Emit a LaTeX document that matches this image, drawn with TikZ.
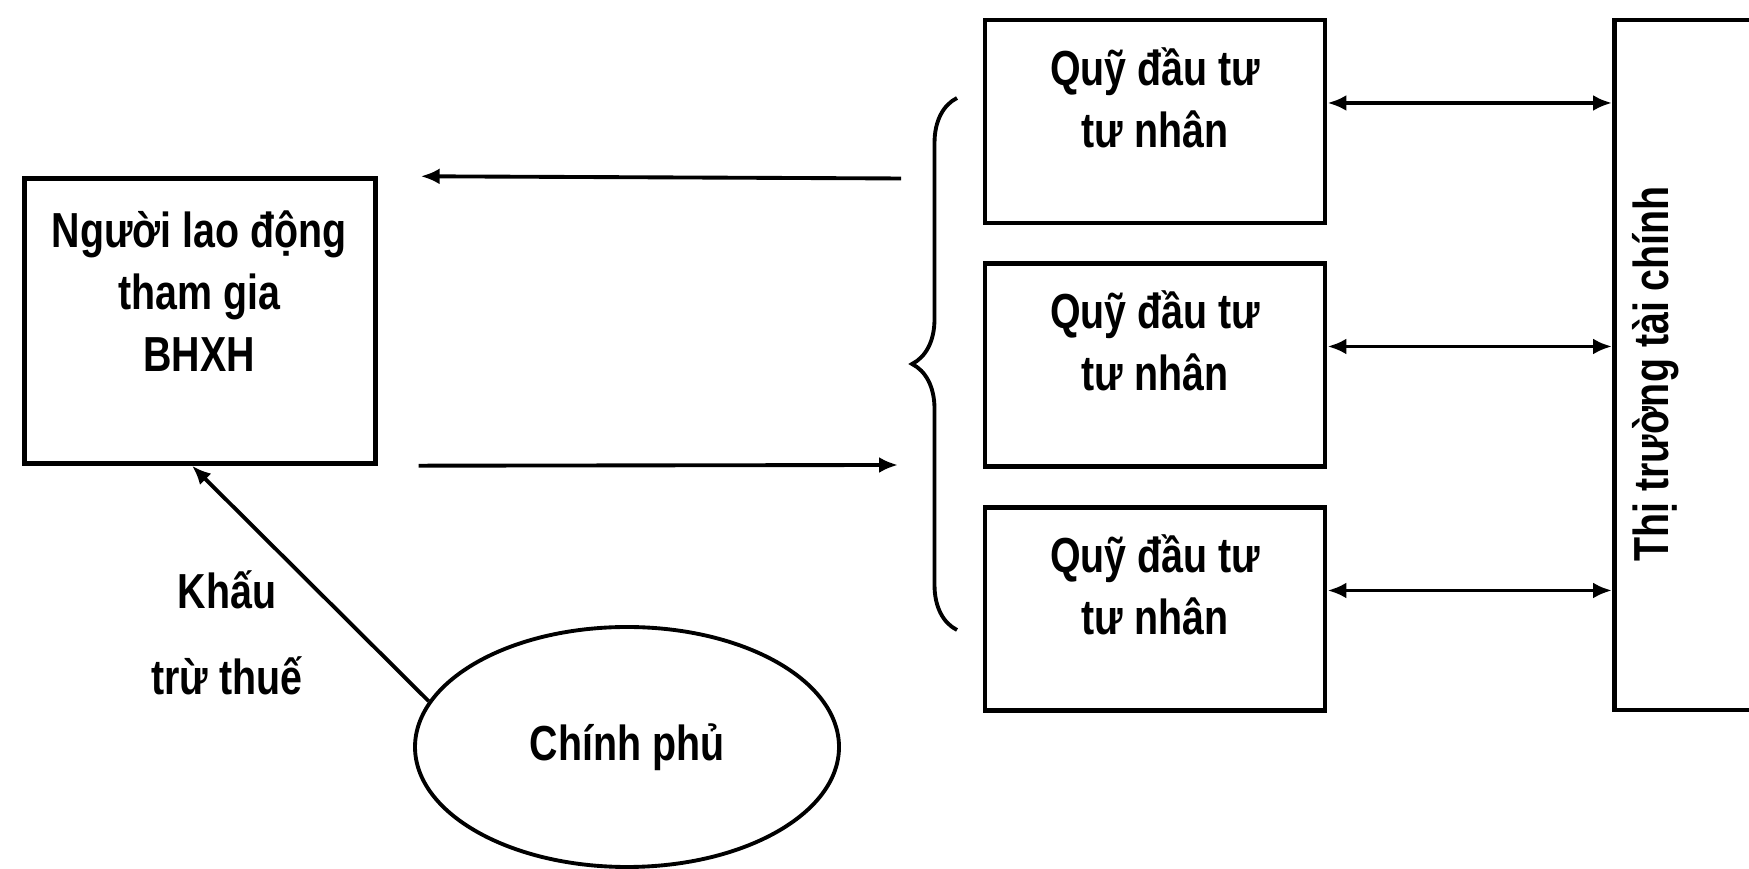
\documentclass[tikz,border=0pt]{standalone}
\usepackage{fontspec}
\setmainfont{Liberation Sans}[FakeStretch=0.8]
\usetikzlibrary{arrows.meta,shapes.geometric,decorations.pathreplacing}

\begin{document}
\begin{tikzpicture}[x=0.1mm,y=0.1mm,
  box/.style={draw,line width=1.4pt,inner sep=0pt},
  lbl/.style={font=\bfseries\fontsize{14}{17.6}\selectfont,align=center},
  arr/.style={line width=1.1pt,-{Latex[length=1.9mm,width=1.6mm]}},
  dbl/.style={line width=1.1pt,{Latex[length=1.9mm,width=1.6mm]}-{Latex[length=1.9mm,width=1.6mm]}}]
 \useasboundingbox (0,0) rectangle (1749,869);

 % nguoi lao dong
 \node[box,minimum width=35.05mm,minimum height=28.45mm] (worker) at (200,548) {};
 \node[lbl] (workertext) at (199,578) {Người lao động\\tham gia\\BHXH};

 % ba quy dau tu
 \foreach \i/\y in {1/747.5,2/504,3/260} {
  \node[box,minimum width=34mm,minimum height=20.3mm] (fund\i) at (1155,\y) {};
  \node[lbl] (fundtext\i) at ([yshift=2.4mm]fund\i) {Quỹ đầu tư\\tư nhân};
 }

 % thi truong tai chinh
 \node[box,anchor=west,minimum width=30mm,minimum height=69mm] (market) at (1612,504) {};
 \node[lbl,rotate=90] (markettext) at (1656,495) {Thị trường tài chính};

 \foreach \i in {1,2,3}
  \draw[dbl] ([yshift=1.85mm]fund\i.east) -- ([yshift=1.85mm]fund\i.east -| market.west);

 % ngoac gom ba quy
 \draw[line width=1.1pt,decorate,decoration={brace,amplitude=4.5mm}] (957,239) -- (957,771);

 % dong tien
 \coordinate (out) at (901,690.5);
 \coordinate (in) at (898,404);
 \draw[arr] (out) -- ([xshift=4.3mm]worker.north east);
 \draw[arr] ([xshift=4.1mm]worker.south east) -- (in);

 % chinh phu
 \node[draw,ellipse,line width=1.1pt,minimum width=42.4mm,minimum height=24mm,inner sep=0pt,lbl] (gov) at (627,122) {Chính phủ};
 \draw[arr] (gov.167) -- ([xshift=-0.8mm]worker.south);
 \node[lbl] (tax) at (227,236) {Khấu\\[7pt]trừ thuế};
\end{tikzpicture}
\end{document}
